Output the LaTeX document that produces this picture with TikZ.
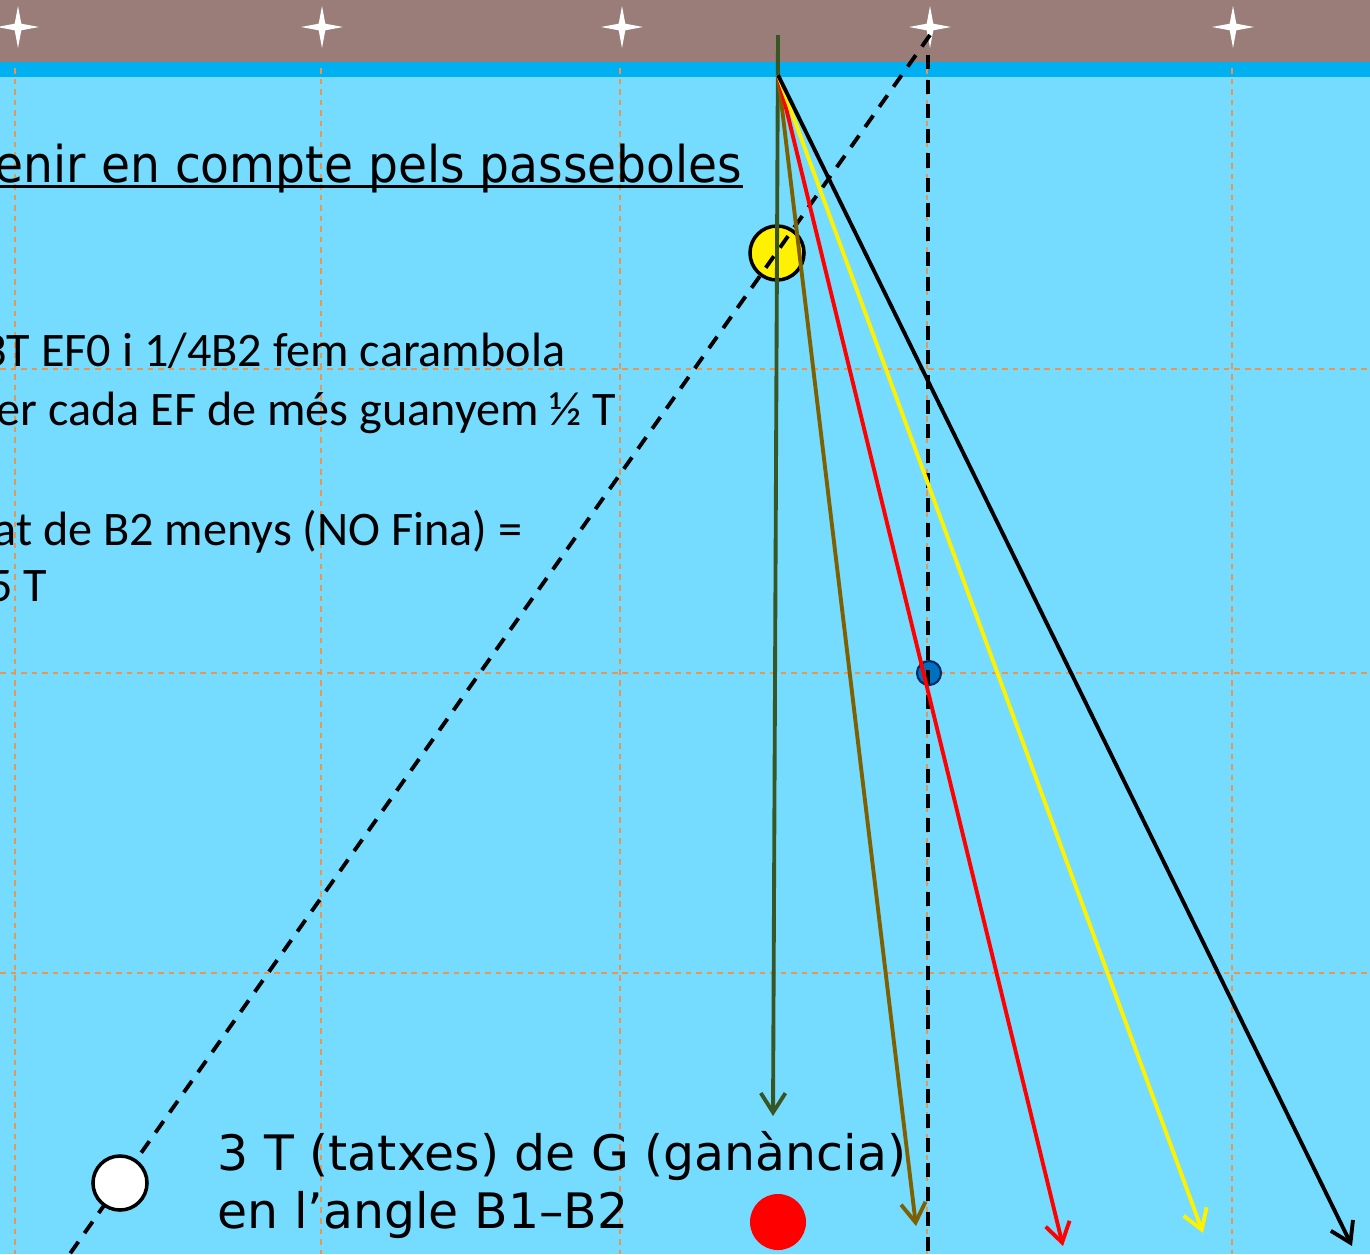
\documentclass[tikz,border=0pt]{standalone}
\usepackage{fontspec}
\setmainfont{Carlito}
\newfontfamily\bottomfont{DejaVu Sans}
\usepackage{tikz}
\usetikzlibrary{shapes.geometric, arrows.meta}
\definecolor{banda}{RGB}{154,125,120}
\definecolor{tira}{RGB}{0,176,240}
\definecolor{tapet}{RGB}{117,219,255}
\definecolor{gridorange}{RGB}{232,150,80}
\definecolor{verd}{RGB}{56,86,35}
\definecolor{marro}{RGB}{127,96,0}
\definecolor{blaufosc}{RGB}{0,112,192}
\definecolor{blauvora}{RGB}{0,40,100}
\tikzstyle{ball} = [circle, draw=black, line width=1pt, minimum size=0.54cm, inner sep=0pt]
\tikzstyle{shot} = [line width=1.1pt, -{Straight Barb[length=5.5pt,width=7pt]}]
\tikzstyle{aim} = [line width=1.1pt, dash pattern=on 4pt off 3pt]
\tikzstyle{gridline} = [draw=gridorange, line width=0.35pt, dash pattern=on 1.6pt off 1.4pt]
\tikzstyle{sparkle} = [star, star points=4, star point ratio=4.5, minimum size=0.42cm, inner sep=0pt, fill=white]
\tikzstyle{note} = [font=\fontsize{13.7}{16}\selectfont, anchor=base east, inner sep=0pt]
\tikzstyle{gain} = [font=\bottomfont\fontsize{13.9}{16}\selectfont, anchor=base west, inner sep=0pt]

\begin{document}
\begin{tikzpicture}[x=0.01cm, y=-0.01cm]
    \useasboundingbox (0,0) rectangle (1370,1254);
    \clip (0,0) rectangle (1370,1254);
    % taula
    \fill[banda] (0,0) rectangle (1370,62);
    \fill[tira] (0,62) rectangle (1370,77);
    \fill[tapet] (0,77) rectangle (1370,1254);
    \foreach \x in {18,322,622,930,1233}
        \node[sparkle] at (\x,27) {};
    \foreach \x in {15,321,620,927,1232}
        \draw[gridline] (\x,68) -- (\x,1254);
    \foreach \y in {369,673,973}
        \draw[gridline] (0,\y) -- (1370,\y);

    % textos
    \node (title) [note, font=\bottomfont\fontsize{14.4}{18}\selectfont] at (743,182) {\resizebox{7.47cm}{\height}{enir en compte pels passeboles}};
    \draw[line width=0.8pt] ([yshift=-0.45mm]title.base west) -- ([yshift=-0.45mm]title.base east);
    \node (line1) [note] at (566,366) {3T EF0 i 1/4B2 fem carambola};
    \node (line2) [note] at (617,425) {er cada EF de més guanyem ½ T};
    \node (line3) [note] at (523,545) {at de B2 menys (NO Fina) =};
    \node (line4) [note] at (48,601) {5 T};
    \node (gain1) [gain] at (217,1170) {3 T (tatxes) de G (ganància)};
    \node (gain2) [gain] at (217,1228) {en l’angle B1–B2};

    % boles
    \node (yellow) [ball, fill=yellow] at (777,253) {};
    \node (target) [circle, fill=blaufosc, draw=blauvora, line width=0.6pt, minimum size=0.24cm, inner sep=0pt] at (929,673) {};

    % tirades
    \coordinate (P) at (778,75);
    \coordinate (greenTop) at (778,35);
    \coordinate (greenEnd) at (773,1116);
    \coordinate (brownEnd) at (916,1226);
    \coordinate (redEnd) at (1063,1246);
    \coordinate (yellowEnd) at (1203,1233);
    \coordinate (blackEnd) at (1352,1246);
    \coordinate (aimTop) at (930,35);
    \coordinate (aimEnd) at (62,1265);
    \coordinate (railTop) at (928,55);
    \coordinate (railEnd) at (928,1260);

    \draw [aim] (aimTop) -- (aimEnd);
    \draw [aim] (railTop) -- (railEnd);
    \draw [shot, draw=verd] (greenTop) -- (greenEnd);
    \draw [shot, draw=marro] (P) -- (brownEnd);
    \draw [shot, draw=red] (P) -- (redEnd);
    \draw [shot, draw=yellow] (P) -- (yellowEnd);
    \draw [shot, draw=black] (P) -- (blackEnd);

    \node (white) [ball, fill=white] at (120,1183) {};
    \node (red) [circle, fill=red, minimum size=0.56cm, inner sep=0pt] at (778,1222) {};
\end{tikzpicture}
\end{document}
